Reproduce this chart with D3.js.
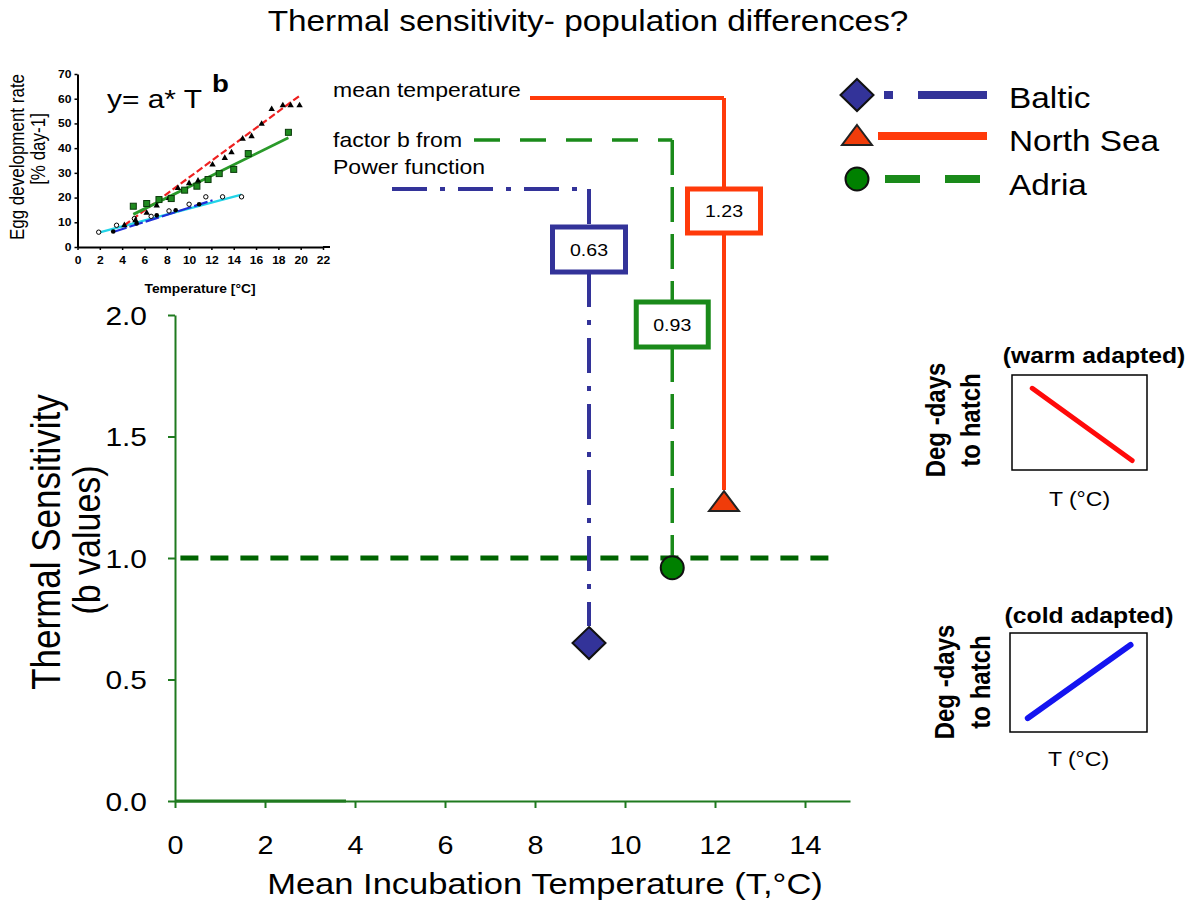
<!DOCTYPE html>
<html><head><meta charset="utf-8">
<script src="https://cdn.jsdelivr.net/npm/d3@7"></script>
<style>body{margin:0;background:#fff;} svg{display:block;font-family:"Liberation Sans",Arial,sans-serif;}</style>
</head><body><svg id="c" width="1197" height="918"></svg>
<script>
// ---------- main chart data ----------
const populations = ["Baltic", "North Sea", "Adria"];
const meanTemp = [9.2, 12.2, 11.05];          // mean incubation temperature (°C)
const bValue = [0.65, 1.23, 0.96];            // plotted thermal sensitivity
const bLabel = ["0.63", "1.23", "0.93"];      // boxed labels
const xTicks = [0, 2, 4, 6, 8, 10, 12, 14];
const yTicks = [0.0, 0.5, 1.0, 1.5, 2.0];
const refValue = 1.0;

// ---------- inset data (egg development rate vs temperature) ----------
const insetXTicks = [0, 2, 4, 6, 8, 10, 12, 14, 16, 18, 20, 22];
const insetYTicks = [0, 10, 20, 30, 40, 50, 60, 70];
const nsT = [4.2, 5.2, 6.2, 7.1, 8.2, 9.0, 10.0, 10.8, 12.1, 13.2, 13.8, 14.8, 15.6, 16.5, 17.4, 18.4, 19.1, 19.9];
const nsR = [9, 11, 14, 17, 20, 24, 26, 27, 33.5, 36.2, 38.5, 44, 45, 50, 56, 57.5, 57.5, 57.5];
const adT = [5.0, 6.2, 7.3, 8.4, 9.6, 10.7, 11.7, 12.7, 14.0, 15.3, 18.9];
const adR = [16.5, 17.6, 19.2, 19.6, 23.0, 24.6, 27.3, 29.7, 31.4, 37.8, 46.4];
const ocT = [1.9, 3.5, 5.1, 6.6, 8.2, 10.0, 11.5, 13.0, 14.7];
const ocR = [6.0, 8.8, 11.5, 12.4, 14.6, 17.3, 20.3, 20.3, 20.3];
const baT = [3.2, 5.3, 7.1, 8.8, 10.9];
const baR = [6.3, 9.5, 12.8, 14.9, 17.3];
const nsFitT = [4.2, 20.0], nsFitR = [8.8, 61.5];
const adFitT = [5.0, 18.9], adFitR = [13.2, 44.2];
const ocFitT = [1.9, 14.7], ocFitR = [5.8, 21.2];
const baFitT = [3.2, 12.1], baFitR = [6.1, 18.9];

// ---------- concept sketches (unit space) ----------
const warmX = [0.15, 0.89], warmY = [0.86, 0.10];
const coldX = [0.13, 0.88], coldY = [0.14, 0.88];

// ---------- styles ----------
const colors = {"Baltic": "#333399", "North Sea": "#ff3a0a", "Adria": "#1a8a1a"};
const axisColor = "#1f7a1f";
const SX = 1.15;

const svg = d3.select("#c");

function label(sel, x, y, str, size, opt = {}) {
  return sel.append("text")
    .attr("transform", `translate(${x},${y}) scale(${SX},1)` + (opt.rotate ? ` rotate(${opt.rotate})` : ""))
    .attr("font-size", size)
    .attr("text-anchor", opt.anchor || "start")
    .attr("font-weight", opt.bold ? "bold" : "normal")
    .attr("fill", opt.fill || "#000")
    .text(str);
}

// ---------- title ----------
label(svg, 588, 31, "Thermal sensitivity- population differences?", 29, {anchor: "middle"});

// ---------- main scales ----------
const x = d3.scaleLinear().domain([0, 15]).range([175, 850]);
const y = d3.scaleLinear().domain([0, 2]).range([801, 315]);

const gy = svg.append("g").attr("transform", `translate(${x(0)},0)`)
  .call(d3.axisLeft(y).tickValues(yTicks).tickSize(7).tickSizeOuter(0).tickFormat(d3.format(".1f")));
const gx = svg.append("g").attr("transform", `translate(0,${y(0)})`)
  .call(d3.axisBottom(x).tickValues(xTicks).tickSize(7).tickSizeOuter(0));
[gx, gy].forEach(g => {
  g.select(".domain").attr("stroke", axisColor).attr("stroke-width", 2);
  g.selectAll(".tick line").attr("stroke", axisColor).attr("stroke-width", 2);
  g.selectAll(".tick text").attr("fill", "#000").attr("font-family", '"Liberation Sans",Arial,sans-serif');
});
gy.selectAll(".tick text").attr("font-size", 26).attr("x", 0).attr("dy", "0.36em")
  .attr("transform", `translate(-28,0) scale(${SX},1)`);
gx.selectAll(".tick text").attr("font-size", 25).attr("y", 0).attr("dy", 0)
  .attr("transform", `translate(0,53) scale(${SX},1)`);
// slightly heavier start of the x axis line
svg.append("line").attr("x1", x(0)).attr("x2", x(3.8)).attr("y1", y(0)).attr("y2", y(0))
  .attr("stroke", axisColor).attr("stroke-width", 3);

// axis titles
label(svg, 545, 894, "Mean Incubation Temperature (T,°C)", 30, {anchor: "middle"});
label(svg, 60, 542, "Thermal Sensitivity", 35, {anchor: "middle", rotate: -90});
label(svg, 100, 540, "(b values)", 34, {anchor: "middle", rotate: -90});

// reference line b = 1
svg.append("line").attr("x1", x(0.12)).attr("x2", x(14.6)).attr("y1", y(refValue)).attr("y2", y(refValue))
  .attr("stroke", "#006400").attr("stroke-width", 5).attr("stroke-dasharray", "18,12");

// ---------- leader lines and boxes ----------
const layout = {
  "Baltic":    {hy: 189, hx0: 392, boxTop: 227, boxH: 45, boxW: 73, mTop: 17, hDash: "35,13,5,13", vDash: "35,13,5,13", w: 4},
  "North Sea": {hy: 98,  hx0: 530, boxTop: 189, boxH: 44, boxW: 73, mTop: 12, hDash: null, vDash: null, w: 4},
  "Adria":     {hy: 140, hx0: 474, boxTop: 302, boxH: 45, boxW: 72, mTop: 12, hDash: "26,20", vDash: "35,12", w: 3.5}
};
populations.forEach((p, i) => {
  const L = layout[p], cx = x(meanTemp[i]), c = colors[p];
  const my = y(bValue[i]) - L.mTop;
  const seg = (x1, y1, x2, y2, dash) => svg.append("line").attr("x1", x1).attr("y1", y1).attr("x2", x2).attr("y2", y2)
    .attr("stroke", c).attr("stroke-width", L.w).attr("stroke-dasharray", dash);
  seg(L.hx0, L.hy, cx, L.hy, L.hDash);
  seg(cx, L.hy, cx, L.boxTop, L.vDash);
  seg(cx, L.boxTop + L.boxH, cx, my, L.vDash);
  svg.append("rect").attr("x", cx - L.boxW / 2).attr("y", L.boxTop).attr("width", L.boxW).attr("height", L.boxH)
    .attr("fill", "#fff").attr("stroke", c).attr("stroke-width", 5);
  label(svg, cx, L.boxTop + L.boxH / 2 + 6, bLabel[i], 17, {anchor: "middle"});
});
label(svg, 333, 97, "mean temperature", 20);
label(svg, 333, 147, "factor b from", 20);
label(svg, 333, 174, "Power function", 20);

// ---------- markers ----------
function marker(sel, p, cx, cy) {
  if (p === "Baltic") {
    sel.append("path").attr("d", `M${cx},${cy - 16}L${cx + 16.5},${cy}L${cx},${cy + 16}L${cx - 16.5},${cy}Z`)
      .attr("fill", "#333399").attr("stroke", "#111").attr("stroke-width", 2);
  } else if (p === "North Sea") {
    sel.append("path").attr("d", `M${cx},${cy - 11}L${cx + 15},${cy + 9}L${cx - 15},${cy + 9}Z`)
      .attr("fill", "#f03c0a").attr("stroke", "#222").attr("stroke-width", 2);
  } else {
    sel.append("circle").attr("cx", cx).attr("cy", cy).attr("r", 11.5)
      .attr("fill", "#008000").attr("stroke", "#111").attr("stroke-width", 2);
  }
}
populations.forEach((p, i) => marker(svg, p, x(meanTemp[i]), y(bValue[i])));

// ---------- legend ----------
const legY = {"Baltic": 95, "North Sea": 136, "Adria": 179};
const legTextY = {"Baltic": 108, "North Sea": 151, "Adria": 195};
populations.forEach(p => {
  const yy = legY[p], c = colors[p];
  marker(svg, p, 857, yy);
  const ln = (x1, x2) => svg.append("line").attr("x1", x1).attr("x2", x2).attr("y1", yy).attr("y2", yy)
    .attr("stroke", c).attr("stroke-width", 8);
  if (p === "Baltic") { ln(884, 893); ln(918, 987); }
  else if (p === "North Sea") { ln(878, 987); }
  else { ln(885, 920); ln(945, 980); }
  label(svg, 1009, legTextY[p], p, 29);
});

// ---------- inset ----------
const ix = d3.scaleLinear().domain([0, 22]).range([77.5, 323]);
const iy = d3.scaleLinear().domain([0, 70]).range([247, 74]);
const gi = svg.append("g");
const giy = gi.append("g").attr("transform", `translate(${ix(0)},0)`)
  .call(d3.axisLeft(iy).tickValues(insetYTicks).tickSize(3).tickSizeOuter(0));
const gix = gi.append("g").attr("transform", `translate(0,${iy(0)})`)
  .call(d3.axisBottom(ix).tickValues(insetXTicks).tickSize(3).tickSizeOuter(0));
[giy, gix].forEach(g => {
  g.select(".domain").attr("stroke", "#000").attr("stroke-width", 2);
  g.selectAll(".tick line").attr("stroke", "#000").attr("stroke-width", 1.5);
  g.selectAll(".tick text").attr("fill", "#000").attr("font-weight", "bold").attr("font-size", 10.5)
    .attr("font-family", '"Liberation Sans",Arial,sans-serif');
});
gi.append("line").attr("x1", ix(22)).attr("x2", 330).attr("y1", iy(0)).attr("y2", iy(0)).attr("stroke", "#000").attr("stroke-width", 2);
giy.selectAll(".tick text").attr("x", 0).attr("transform", `translate(-6,0) scale(${SX},1)`);
gix.selectAll(".tick text").attr("y", 0).attr("dy", 0).attr("transform", `translate(0,17) scale(${SX},1)`);

const fit = (T, R, c, w, dash) => gi.append("line").attr("x1", ix(T[0])).attr("y1", iy(R[0])).attr("x2", ix(T[1])).attr("y2", iy(R[1]))
  .attr("stroke", c).attr("stroke-width", w).attr("stroke-dasharray", dash);
fit(ocFitT, ocFitR, "#22d4e8", 2.2, null);
fit(baFitT, baFitR, "#1f2fd8", 2.2, "14,3");
fit(nsFitT, nsFitR, "#ee2020", 2.2, "7,3");
fit(adFitT, adFitR, "#2a9a2a", 2.8, null);

ocT.forEach((t, i) => gi.append("circle").attr("cx", ix(t)).attr("cy", iy(ocR[i])).attr("r", 2.2).attr("fill", "#fff").attr("stroke", "#000").attr("stroke-width", 1));
baT.forEach((t, i) => gi.append("circle").attr("cx", ix(t)).attr("cy", iy(baR[i])).attr("r", 2.3).attr("fill", "#000"));
nsT.forEach((t, i) => { const cx = ix(t), cy = iy(nsR[i]);
  gi.append("path").attr("d", `M${cx},${cy - 3.2}L${cx + 3.2},${cy + 2.4}L${cx - 3.2},${cy + 2.4}Z`).attr("fill", "#000"); });
adT.forEach((t, i) => gi.append("rect").attr("x", ix(t) - 3).attr("y", iy(adR[i]) - 3).attr("width", 6).attr("height", 6)
  .attr("fill", "#1f8a1f").attr("stroke", "#0a3a0a").attr("stroke-width", 1));

label(gi, 107, 108, "y= a* T", 26);
label(gi, 212, 92, "b", 24, {bold: true});
label(gi, 200, 293, "Temperature [°C]", 12, {anchor: "middle", bold: true});
label(gi, 24, 157, "Egg development rate", 17, {anchor: "middle", rotate: -90});
label(gi, 45, 149, "[% day-1]", 17, {anchor: "middle", rotate: -90});

// ---------- concept sketches ----------
function sketch(bx, by, bw, bh, X, Y, col, w, title, tx, ty, d1x, d2x, dcy, tLabY) {
  const sx = d3.scaleLinear().domain([0, 1]).range([bx, bx + bw]);
  const sy = d3.scaleLinear().domain([0, 1]).range([by + bh, by]);
  svg.append("rect").attr("x", bx).attr("y", by).attr("width", bw).attr("height", bh)
    .attr("fill", "none").attr("stroke", "#000").attr("stroke-width", 1.5);
  svg.append("line").attr("x1", sx(X[0])).attr("y1", sy(Y[0])).attr("x2", sx(X[1])).attr("y2", sy(Y[1]))
    .attr("stroke", col).attr("stroke-width", w).attr("stroke-linecap", "round");
  label(svg, tx, ty, title, 21.5, {anchor: "middle", bold: true});
  label(svg, d1x, dcy, "Deg -days", 24, {anchor: "middle", bold: true, rotate: -90});
  label(svg, d2x, dcy, "to hatch", 24, {anchor: "middle", bold: true, rotate: -90});
  label(svg, bx + bw / 2, tLabY, "T (°C)", 20, {anchor: "middle"});
}
sketch(1012, 375, 135, 95, warmX, warmY, "#ff0a0a", 5, "(warm adapted)", 1094, 363, 945, 980, 420, 506);
sketch(1010, 633, 137, 99, coldX, coldY, "#1414f0", 6, "(cold adapted)", 1089, 623, 954, 990, 682, 766);
</script>
</body></html>
